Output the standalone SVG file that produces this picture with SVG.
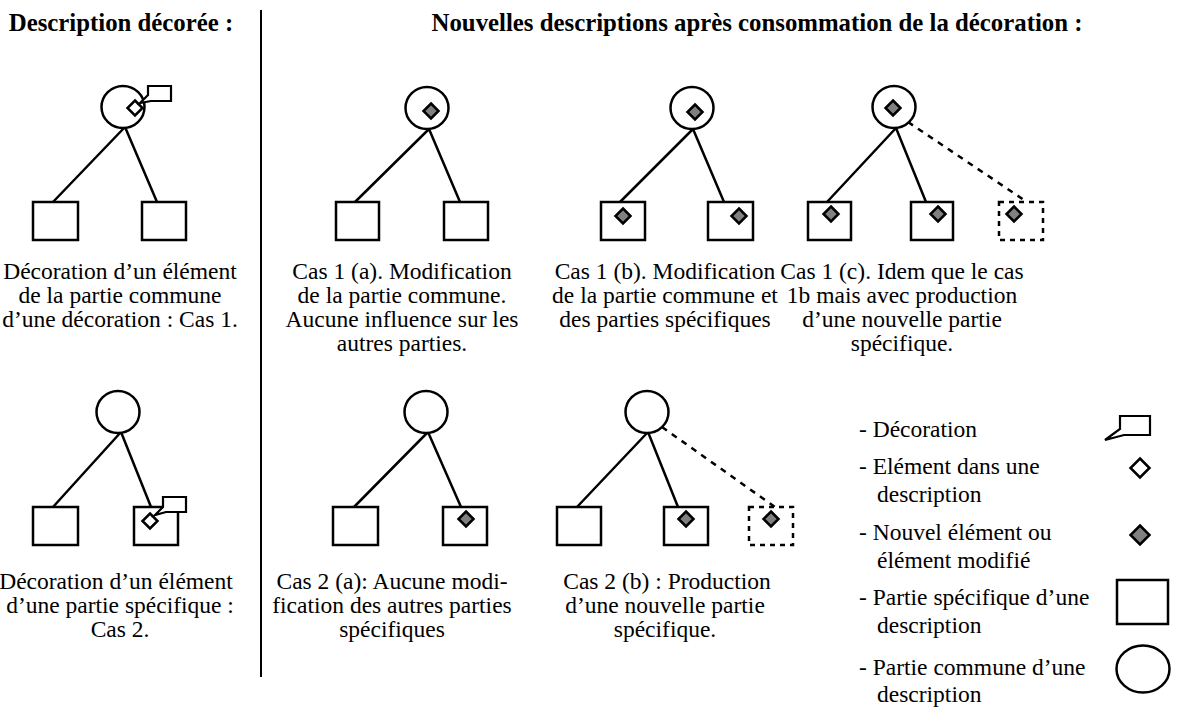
<svg xmlns="http://www.w3.org/2000/svg" xmlns:xlink="http://www.w3.org/1999/xlink" width="1179" height="707" viewBox="0 0 1179 707">
<style>
.ln{fill:none;stroke:#000;stroke-width:2.5}
.dl{fill:none;stroke:#000;stroke-width:2.5;stroke-dasharray:6 6}
.sq{fill:#fff;stroke:#000;stroke-width:2.5}
.dsq{fill:#fff;stroke:#000;stroke-width:2.5;stroke-dasharray:5 5}
.cir{fill:#fff;stroke:#000;stroke-width:2.5}
.wd{fill:#fff;stroke:#000;stroke-width:2.5}
.gd{fill:#808080;stroke:#000;stroke-width:2.5}
.co{fill:#fff;stroke:#000;stroke-width:2.2;stroke-linejoin:miter}
text{font-family:"Liberation Serif","Times New Roman",serif;font-size:23.5px;fill:#000}
.c{text-anchor:middle}
.h{font-weight:bold;font-size:24.8px}
</style>
<defs>
<path id="dia" d="M0,-7.5 L7.5,0 L0,7.5 L-7.5,0 Z"/>
<path id="dial" d="M0,-9.5 L9.5,0 L0,9.5 L-9.5,0 Z"/>
</defs>

<line x1="261" y1="10" x2="261" y2="677" stroke="#000" stroke-width="2"/>

<g id="connectors">
<path class="ln" d="M125,127 L53,202 M125,127 L157,202"/>
<path class="ln" d="M429,129 L355,202 M429,129 L460,202"/>
<path class="ln" d="M693,129 L620,202 M693,129 L724,202"/>
<path class="ln" d="M896,128 L827,202 M896,128 L926,202"/>
<path class="dl" d="M908,122 L1027,202"/>
<path class="ln" d="M121,432 L53,507 M121,432 L151,507"/>
<path class="ln" d="M428,432 L354,507 M428,432 L461,507"/>
<path class="ln" d="M648,432 L577,507 M648,432 L678,507"/>
<path class="dl" d="M662,427 L775,507"/>
</g>

<g id="treeA">
<ellipse class="cir" cx="123" cy="107" rx="21.5" ry="21"/>
<rect class="sq" x="33" y="202" width="45" height="38"/>
<rect class="sq" x="142" y="202" width="44" height="38"/>
<use href="#dia" xlink:href="#dia" x="135" y="108" class="wd"/>
<path class="co" d="M148,86 H171 V101 H151 L140,103 L148,95 Z"/>
</g>

<g id="tree1a">
<ellipse class="cir" cx="427" cy="108" rx="21.5" ry="21"/>
<rect class="sq" x="336" y="202" width="43" height="38"/>
<rect class="sq" x="444" y="202" width="44" height="38"/>
<use href="#dia" xlink:href="#dia" x="431" y="111" class="gd"/>
</g>

<g id="tree1b">
<ellipse class="cir" cx="692" cy="108" rx="21.5" ry="21"/>
<rect class="sq" x="601" y="202" width="44" height="38"/>
<rect class="sq" x="708" y="202" width="45" height="38"/>
<use href="#dia" xlink:href="#dia" x="695" y="112" class="gd"/>
<use href="#dia" xlink:href="#dia" x="623" y="216" class="gd"/>
<use href="#dia" xlink:href="#dia" x="739" y="216" class="gd"/>
</g>

<g id="tree1c">
<ellipse class="cir" cx="894" cy="107" rx="21.5" ry="21"/>
<rect class="sq" x="808" y="202" width="43" height="38"/>
<rect class="sq" x="911" y="202" width="42" height="38"/>
<rect class="dsq" x="999" y="202" width="44" height="38"/>
<use href="#dia" xlink:href="#dia" x="893" y="108" class="gd"/>
<use href="#dia" xlink:href="#dia" x="831" y="214" class="gd"/>
<use href="#dia" xlink:href="#dia" x="938" y="214" class="gd"/>
<use href="#dia" xlink:href="#dia" x="1014" y="214" class="gd"/>
</g>

<g id="treeB">
<ellipse class="cir" cx="118" cy="412" rx="21.5" ry="21"/>
<rect class="sq" x="33" y="507" width="45" height="38"/>
<rect class="sq" x="134" y="507" width="44" height="38"/>
<use href="#dia" xlink:href="#dia" x="150" y="521" class="wd"/>
<path class="co" d="M163,497 H186 V512 H166 L155,515 L163,507 Z"/>
</g>

<g id="tree2a">
<ellipse class="cir" cx="426" cy="412" rx="21.5" ry="21"/>
<rect class="sq" x="333" y="507" width="45" height="38"/>
<rect class="sq" x="443" y="507" width="44" height="38"/>
<use href="#dia" xlink:href="#dia" x="466" y="519" class="gd"/>
</g>

<g id="tree2b">
<ellipse class="cir" cx="647" cy="412" rx="21.5" ry="21"/>
<rect class="sq" x="557" y="507" width="44" height="38"/>
<rect class="sq" x="664" y="507" width="44" height="38"/>
<rect class="dsq" x="749" y="507" width="44" height="38"/>
<use href="#dia" xlink:href="#dia" x="686" y="519" class="gd"/>
<use href="#dia" xlink:href="#dia" x="771" y="519" class="gd"/>
</g>

<g id="legend-icons">
<path class="co" d="M1120,416 H1150 V435 H1124 L1105,440 L1120,429 Z"/>
<use href="#dial" xlink:href="#dial" x="1140" y="468" class="wd"/>
<use href="#dial" xlink:href="#dial" x="1140" y="535" class="gd"/>
<rect class="sq" x="1117" y="580" width="51" height="44"/>
<ellipse class="cir" cx="1143" cy="669" rx="26.5" ry="23.5"/>
</g>

<g id="texts">
<text class="c h" x="121" y="31">Description décorée :</text>
<text class="c h" x="757" y="31">Nouvelles descriptions après consommation de la décoration :</text>

<text class="c" x="120" y="279">Décoration d’un élément</text>
<text class="c" x="120" y="303">de la partie commune</text>
<text class="c" x="120" y="327">d’une décoration : Cas 1.</text>

<text class="c" x="402" y="279">Cas 1 (a). Modification</text>
<text class="c" x="402" y="303">de la partie commune.</text>
<text class="c" x="402" y="327">Aucune influence sur les</text>
<text class="c" x="402" y="351">autres parties.</text>

<text class="c" x="665" y="279">Cas 1 (b). Modification</text>
<text class="c" x="665" y="303">de la partie commune et</text>
<text class="c" x="665" y="327">des parties spécifiques</text>

<text class="c" x="902" y="279">Cas 1 (c). Idem que le cas</text>
<text class="c" x="902" y="303">1b mais avec production</text>
<text class="c" x="902" y="327">d’une nouvelle partie</text>
<text class="c" x="902" y="351">spécifique.</text>

<text class="c" x="116" y="589">Décoration d’un élément</text>
<text class="c" x="120" y="613">d’une partie spécifique :</text>
<text class="c" x="120" y="637">Cas 2.</text>

<text class="c" x="392" y="589">Cas 2 (a): Aucune modi-</text>
<text class="c" x="392" y="613">fication des autres parties</text>
<text class="c" x="392" y="637">spécifiques</text>

<text class="c" x="667" y="589">Cas 2 (b) : Production</text>
<text class="c" x="665" y="613">d’une nouvelle partie</text>
<text class="c" x="665" y="637">spécifique.</text>

<text x="859" y="437">- Décoration</text>
<text x="859" y="474">- Elément dans une</text>
<text x="877" y="502">description</text>
<text x="859" y="540">- Nouvel élément ou</text>
<text x="877" y="568">élément modifié</text>
<text x="859" y="605">- Partie spécifique d’une</text>
<text x="877" y="633">description</text>
<text x="859" y="675">- Partie commune d’une</text>
<text x="877" y="702">description</text>
</g>
</svg>
